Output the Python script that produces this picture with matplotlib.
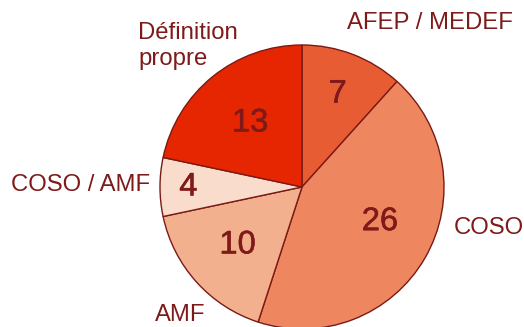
import matplotlib.pyplot as plt
import matplotlib.patheffects as pe
import numpy as np

# slices, clockwise from 12 o'clock
labels = ["AFEP / MEDEF", "COSO", "AMF", "COSO / AMF", "Définition\npropre"]
values = [7, 26, 10, 4, 13]
colors = ["#E85C34", "#EE865F", "#F3B08F", "#F9DCCB", "#E62600"]

TXT = "#7F1A1A"
EDGE = "#7A1A14"

# where each number sits, as fraction of the radius
num_r = [0.70, 0.60, 0.61, 0.80, 0.58]
num_shift = [0, 6, 0, 0, 0]  # small angle tweak (deg)

plt.rcParams["font.family"] = ["Liberation Sans", "DejaVu Sans"]

fig = plt.figure(figsize=(5.24, 3.27), dpi=100)
ax = fig.add_axes([0, 0, 1, 1])

cx, cy, R = 302, 140, 142
wedges, _ = ax.pie(values, colors=colors, startangle=90, counterclock=False,
                   center=(cx, cy), radius=R, frame=True,
                   wedgeprops=dict(edgecolor=EDGE, linewidth=1.0))
ax.set_xlim(0, 524)
ax.set_ylim(0, 327)
ax.set_aspect("equal")
ax.axis("off")

thick = [pe.withStroke(linewidth=0.4, foreground=TXT)]
for w, v, fr, sh in zip(wedges, values, num_r, num_shift):
    mid = np.deg2rad((w.theta1 + w.theta2) / 2 + sh)
    ax.text(cx + fr * R * np.cos(mid), cy + fr * R * np.sin(mid), str(v),
            ha="center", va="center", fontsize=23.5, color=TXT,
            path_effects=thick)

# outside labels
label_pos = [(347, 304, "left"), (454, 99, "left"), (155, 12, "left"),
             (150, 142, "right"), (138, 281, "left")]
for lab, (x, y, ha) in zip(labels, label_pos):
    ax.text(x, y, lab, ha=ha, va="center", fontsize=17.2, color=TXT,
            linespacing=1.22)

fig.savefig("out.png", dpi=100)
